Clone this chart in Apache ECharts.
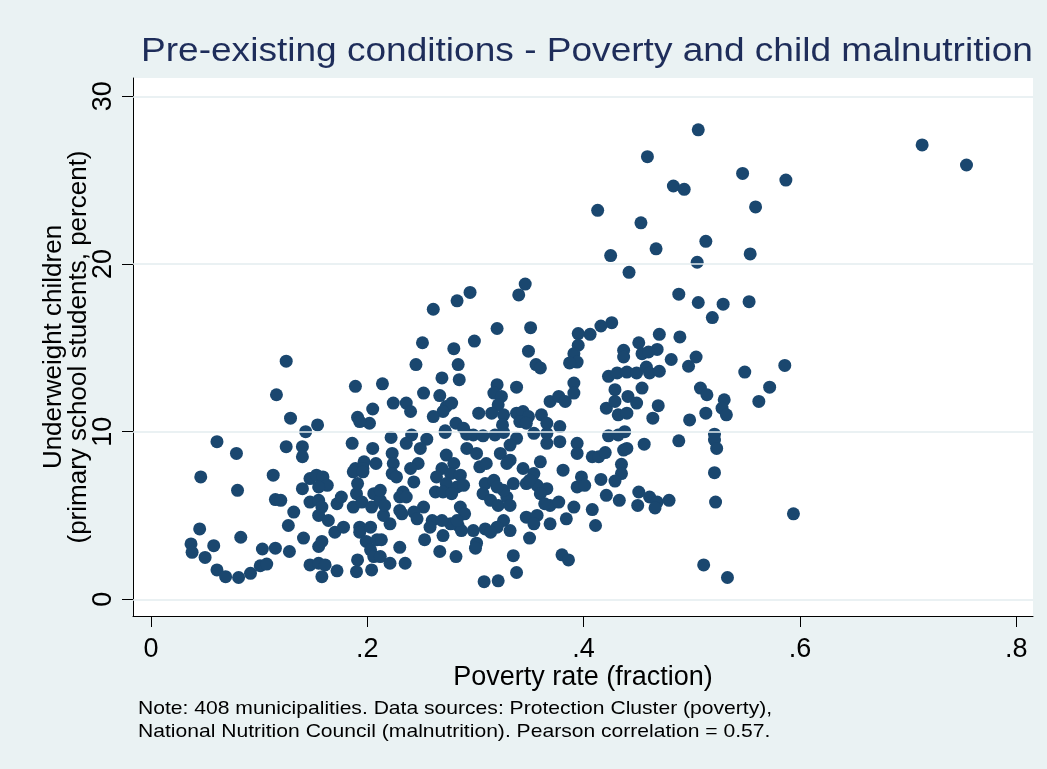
<!DOCTYPE html>
<html>
<head>
<meta charset="utf-8">
<script src="https://cdn.jsdelivr.net/npm/echarts@6/dist/echarts.min.js"></script>
<style>
  html, body { margin: 0; padding: 0; background: #eaf2f3; }
  #chart { width: 1047px; height: 769px; }
</style>
</head>
<body>
<div id="chart"></div>
<script>
// Text drawn on the chart
const chartTitle = 'Pre-existing conditions - Poverty and child malnutrition';
const xAxisTitle = 'Poverty rate (fraction)';
const yAxisTitle = 'Underweight children\n(primary school students, percent)';
const noteLines = [
  'Note: 408 municipalities. Data sources: Protection Cluster (poverty),',
  'National Nutrition Council (malnutrition). Pearson correlation = 0.57.'
];

// Axis ticks and their labels
const xTicks = [0, 0.2, 0.4, 0.6, 0.8];
const xTickLabels = ['0', '.2', '.4', '.6', '.8'];
const yTicks = [0, 10, 20, 30];
const yTickLabels = ['0', '10', '20', '30'];

// One entry per municipality: [poverty rate (fraction), underweight children (%)]
const municipalities = [
  [0.125,14.2],[0.116,12.2],[0.189,12.7],[0.129,10.8],[0.154,10.4],[0.143,10.0],[0.205,11.35],
  [0.191,10.85],[0.202,10.5],[0.193,10.6],[0.061,9.4],[0.079,8.7],[0.125,9.1],[0.140,9.1],
  [0.140,8.5],[0.186,9.3],[0.205,9.0],[0.189,7.8],[0.197,8.2],[0.208,8.1],[0.196,7.8],
  [0.046,7.3],[0.113,7.4],[0.080,6.5],[0.045,4.2],[0.037,3.3],[0.038,2.8],[0.058,3.2],
  [0.050,2.5],[0.083,3.7],[0.061,1.75],[0.069,1.35],[0.081,1.3],[0.092,1.55],[0.101,2.0],
  [0.107,2.1],[0.103,3.0],[0.115,3.05],[0.128,2.85],[0.141,3.65],[0.127,4.4],[0.132,5.2],
  [0.115,5.95],[0.120,5.9],[0.140,6.6],[0.147,7.2],[0.153,7.4],[0.159,7.3],[0.163,6.8],
  [0.155,6.7],[0.147,5.8],[0.155,5.9],[0.158,5.5],[0.155,5.0],[0.164,4.7],[0.172,5.7],
  [0.176,6.1],[0.187,5.5],[0.190,6.3],[0.195,5.8],[0.191,6.9],[0.187,7.6],[0.196,7.6],
  [0.170,4.0],[0.178,4.3],[0.155,3.15],[0.158,3.45],[0.147,2.05],[0.155,2.15],[0.161,2.05],
  [0.158,1.35],[0.172,1.7],[0.193,4.3],[0.193,4.0],[0.203,4.3],[0.199,3.45],[0.203,2.95],
  [0.206,2.55],[0.191,2.35],[0.190,1.65],[0.204,1.75],[0.206,6.3],[0.204,5.5],
  [0.222,9.65],[0.241,9.8],[0.255,9.55],[0.236,9.3],[0.249,9.0],[0.272,9.95],[0.292,9.85],
  [0.298,9.8],[0.307,9.75],[0.318,9.8],[0.326,9.95],[0.338,9.6],[0.332,9.2],[0.354,9.9],
  [0.366,9.9],[0.366,9.3],[0.378,9.4],[0.394,9.3],[0.394,8.7],[0.223,8.7],[0.224,8.1],
  [0.223,7.5],[0.227,7.3],[0.247,8.1],[0.240,7.8],[0.243,7.0],[0.233,6.4],[0.230,6.1],
  [0.236,6.1],[0.273,8.6],[0.280,8.1],[0.269,7.8],[0.264,7.3],[0.277,7.5],[0.286,7.4],
  [0.273,6.9],[0.283,6.7],[0.289,6.8],[0.263,6.4],[0.270,6.4],[0.278,6.3],[0.292,9.0],
  [0.301,8.7],[0.304,7.9],[0.310,8.1],[0.309,6.9],[0.317,7.1],[0.307,6.3],[0.314,5.9],
  [0.321,5.6],[0.329,6.1],[0.332,5.6],[0.326,6.5],[0.335,6.9],[0.320,6.7],[0.323,8.7],
  [0.332,8.3],[0.329,8.1],[0.344,7.8],[0.354,7.5],[0.347,6.9],[0.357,6.8],[0.366,6.6],
  [0.360,6.3],[0.350,7.1],[0.360,8.2],[0.381,7.7],[0.394,6.7],[0.369,5.6],[0.377,5.8],
  [0.364,5.7],[0.391,5.5],[0.384,4.8],[0.347,4.9],[0.357,5.0],[0.354,4.5],[0.369,4.5],
  [0.350,3.65],[0.326,4.7],[0.332,4.1],[0.320,4.3],[0.309,4.2],[0.314,4.0],[0.298,4.1],
  [0.301,3.35],[0.300,3.05],[0.286,5.5],[0.290,5.1],[0.284,4.4],[0.287,4.1],[0.277,4.5],
  [0.283,4.7],[0.260,4.7],[0.269,4.7],[0.258,4.3],[0.270,3.8],[0.252,5.5],[0.243,5.2],
  [0.246,4.8],[0.232,5.1],[0.230,5.3],[0.221,4.5],[0.215,5.0],[0.212,5.9],[0.216,5.6],
  [0.212,6.5],[0.209,3.55],[0.213,3.55],[0.212,2.55],[0.221,2.15],[0.235,2.15],[0.230,3.1],
  [0.253,3.55],[0.267,2.85],[0.282,2.55],[0.335,2.6],[0.338,1.6],[0.308,1.05],[0.321,1.1],
  [0.380,2.65],[0.386,2.35],
  [0.346,18.8],[0.340,18.15],[0.295,18.3],[0.283,17.8],[0.261,17.3],[0.320,16.15],[0.351,16.2],
  [0.299,15.4],[0.251,15.3],[0.280,14.95],[0.349,14.8],[0.245,14.0],[0.284,14.0],[0.356,14.0],
  [0.360,13.8],[0.269,13.2],[0.285,13.1],[0.214,12.85],[0.320,12.8],[0.338,12.65],[0.252,12.3],
  [0.267,12.15],[0.317,12.3],[0.324,12.1],[0.321,11.6],[0.224,11.7],[0.236,11.7],[0.240,11.2],
  [0.273,11.5],[0.278,11.7],[0.270,11.2],[0.261,10.9],[0.282,10.5],[0.272,10.05],[0.289,10.2],
  [0.303,11.1],[0.315,11.1],[0.326,11.0],[0.325,10.4],[0.338,11.1],[0.344,11.2],[0.349,10.9],
  [0.341,10.6],[0.347,10.5],[0.361,11.0],[0.366,10.5],[0.369,11.8],[0.377,12.1],[0.383,11.8],
  [0.378,10.3],
  [0.506,28.0],[0.459,26.4],[0.547,25.4],[0.587,25.0],[0.483,24.65],[0.493,24.45],[0.413,23.2],
  [0.559,23.4],[0.453,22.45],[0.425,20.5],[0.467,20.9],[0.513,21.35],[0.505,20.1],[0.554,20.6],
  [0.442,19.5],
  [0.488,18.2],[0.506,17.7],[0.529,17.6],[0.553,17.75],[0.519,16.8],[0.426,16.5],[0.416,16.3],
  [0.406,15.8],[0.395,15.85],[0.395,15.15],[0.391,14.65],[0.394,14.15],[0.387,14.1],[0.391,12.9],
  [0.391,12.3],[0.470,15.8],[0.489,15.65],[0.451,15.3],[0.468,14.9],[0.454,14.65],[0.460,14.75],
  [0.437,14.85],[0.437,14.45],[0.481,14.3],[0.504,14.45],[0.497,13.9],[0.586,13.95],[0.549,13.55],
  [0.423,13.3],[0.431,13.5],[0.440,13.55],[0.449,13.5],[0.458,13.85],[0.461,13.5],[0.470,13.6],
  [0.572,12.65],[0.562,11.8],[0.429,12.5],[0.454,12.6],[0.508,12.6],[0.514,12.2],[0.530,11.9],
  [0.528,11.4],[0.532,11.0],[0.513,11.1],[0.498,10.7],[0.469,11.55],[0.464,10.8],[0.421,11.4],
  [0.429,11.8],[0.441,12.1],[0.449,11.7],[0.432,11.0],[0.440,11.1],[0.423,9.75],[0.432,9.8],
  [0.438,10.0],[0.488,9.45],[0.521,9.85],[0.521,9.5],[0.456,9.25],
  [0.408,8.5],[0.414,8.5],[0.420,8.75],[0.437,8.9],[0.440,9.0],[0.523,9.0],[0.435,8.05],
  [0.435,7.5],[0.429,7.05],[0.416,7.15],[0.398,7.3],[0.401,6.8],[0.521,7.55],[0.522,5.8],
  [0.421,6.2],[0.433,5.9],[0.451,6.4],[0.461,6.1],[0.468,5.8],[0.479,5.9],[0.450,5.6],
  [0.466,5.45],[0.408,5.35],[0.411,4.4],[0.594,5.1],[0.511,2.05],[0.533,1.3],
  [0.713,27.1],[0.754,25.9]
];

const FONT = '"Liberation Sans", Arial, sans-serif';
const INK = '#000000';
const TITLE_INK = '#1e2d5a';
const MARKER = '#1a476f';
const GRID_LINE = '#e3edef';

function tickLabel(values, labels, v) {
  const i = values.findIndex(t => Math.abs(t - v) < 1e-9);
  return i >= 0 ? labels[i] : '';
}

const chart = echarts.init(document.getElementById('chart'), null, { renderer: 'canvas' });

chart.setOption({
  backgroundColor: '#eaf2f3',
  animation: false,
  textStyle: { fontFamily: FONT },
  grid: {
    left: 133, top: 78, right: 14, bottom: 153,
    show: true, backgroundColor: '#ffffff', borderWidth: 0,
    containLabel: false
  },
  xAxis: {
    type: 'value',
    min: -0.01664, max: 0.8155,
    axisLine: { show: true, onZero: false, lineStyle: { color: INK, width: 1 } },
    axisTick: { show: true, length: 11, customValues: xTicks, lineStyle: { color: INK, width: 1 } },
    axisLabel: {
      customValues: xTicks,
      formatter: v => tickLabel(xTicks, xTickLabels, v),
      fontSize: 27, color: INK, fontFamily: FONT, margin: 20
    },
    splitLine: { show: false },
    name: xAxisTitle, nameLocation: 'middle', nameGap: 48, nameMoveOverlap: false,
    nameTextStyle: { fontSize: 27, color: INK, fontFamily: FONT }
  },
  yAxis: {
    type: 'value',
    min: -0.996, max: 31.09,
    axisLine: { show: true, onZero: false, lineStyle: { color: INK, width: 1 } },
    axisTick: { show: true, length: 11, customValues: yTicks, lineStyle: { color: INK, width: 1 } },
    axisLabel: {
      customValues: yTicks,
      formatter: v => tickLabel(yTicks, yTickLabels, v),
      rotate: 90, fontSize: 27, color: INK, fontFamily: FONT, margin: 16
    },
    splitLine: { show: false },
    name: yAxisTitle, nameLocation: 'middle', nameGap: 42, nameRotate: 90, nameMoveOverlap: false,
    nameTextStyle: { fontSize: 26, lineHeight: 25, color: INK, fontFamily: FONT, align: 'center' }
  },
  graphic: [
    {
      type: 'text', x: 141, y: 35, scaleX: 1.09, silent: true,
      style: { text: chartTitle, fontSize: 34, fontFamily: FONT, fill: TITLE_INK }
    },
    {
      type: 'text', x: 138, y: 697, scaleX: 1.11, silent: true,
      style: { text: noteLines.join('\n'), fontSize: 19, lineHeight: 23.4, fontFamily: FONT, fill: INK }
    }
  ],
  series: [
    {
      // horizontal reference lines at the labelled y ticks
      type: 'scatter', data: [], silent: true,
      markLine: {
        silent: true, symbol: 'none', animation: false,
        label: { show: false },
        lineStyle: { color: GRID_LINE, width: 1.6, type: 'solid' },
        data: yTicks.map(v => ({ yAxis: v }))
      }
    },
    {
      type: 'scatter',
      data: municipalities,
      symbol: 'circle', symbolSize: 13,
      itemStyle: { color: MARKER, opacity: 1 },
      emphasis: { disabled: true }
    }
  ]
});
</script>
</body>
</html>
